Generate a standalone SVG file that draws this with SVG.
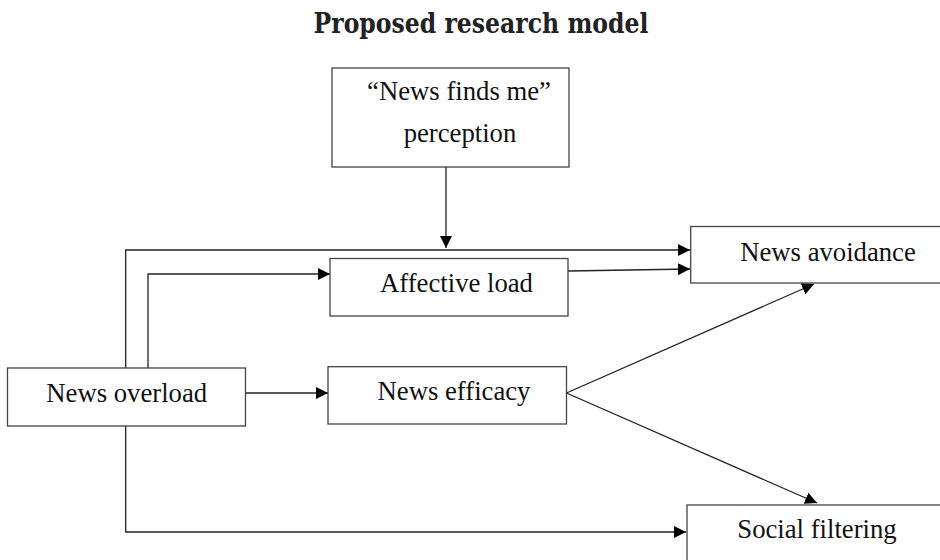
<svg xmlns="http://www.w3.org/2000/svg" width="940" height="560" viewBox="0 0 940 560">
<style>
.box{fill:#fff;stroke:#444;stroke-width:1.3}
.lbl{font-family:"Liberation Serif","Times New Roman",serif;font-size:26.7px;fill:#111;text-anchor:middle}
.edge{fill:none;stroke:#222;stroke-width:1.3}
.title{font-family:"DejaVu Serif","Liberation Serif",serif;font-weight:bold;font-size:27px;fill:#222;text-anchor:middle}
</style>
<defs>
<marker id="arr" markerUnits="userSpaceOnUse" markerWidth="12" markerHeight="12" refX="12" refY="6" orient="auto">
<path d="M0,0 L12,6 L0,12 z" fill="#000"/>
</marker>
</defs>
<rect width="940" height="560" fill="#fff"/>
<text class="title" x="481" y="33" textLength="335" lengthAdjust="spacingAndGlyphs">Proposed research model</text>
<g id="connectors">
<path class="edge" d="M446,167 V248" marker-end="url(#arr)"/>
<path class="edge" d="M125.7,368 V250 H690" marker-end="url(#arr)"/>
<path class="edge" d="M148,368 V274 H330" marker-end="url(#arr)"/>
<path class="edge" d="M568,271 L690,269" marker-end="url(#arr)"/>
<path class="edge" d="M245.5,393 H328" marker-end="url(#arr)"/>
<path class="edge" d="M566.5,393 L814,284" marker-end="url(#arr)"/>
<path class="edge" d="M566.5,393 L817,503" marker-end="url(#arr)"/>
<path class="edge" d="M125.7,426 V532 H686" marker-end="url(#arr)"/>
</g>
<g id="news-finds-me">
<rect class="box" x="332" y="68" width="237" height="99"/>
<text class="lbl" x="459" y="100">“News finds me”</text>
<text class="lbl" x="460" y="142">perception</text>
</g>
<g id="affective-load">
<rect class="box" x="330" y="258.5" width="238" height="57.5"/>
<text class="lbl" x="456.5" y="292">Affective load</text>
</g>
<g id="news-avoidance">
<rect class="box" x="690.7" y="226.5" width="270" height="56.5"/>
<text class="lbl" x="828" y="261">News avoidance</text>
</g>
<g id="news-overload">
<rect class="box" x="7.5" y="368" width="238" height="58"/>
<text class="lbl" x="126.7" y="402">News overload</text>
</g>
<g id="news-efficacy">
<rect class="box" x="328" y="366.7" width="238.5" height="57.3"/>
<text class="lbl" x="454" y="400">News efficacy</text>
</g>
<g id="social-filtering">
<rect class="box" x="687" y="505" width="270" height="80"/>
<text class="lbl" x="817" y="538">Social filtering</text>
</g>
</svg>
